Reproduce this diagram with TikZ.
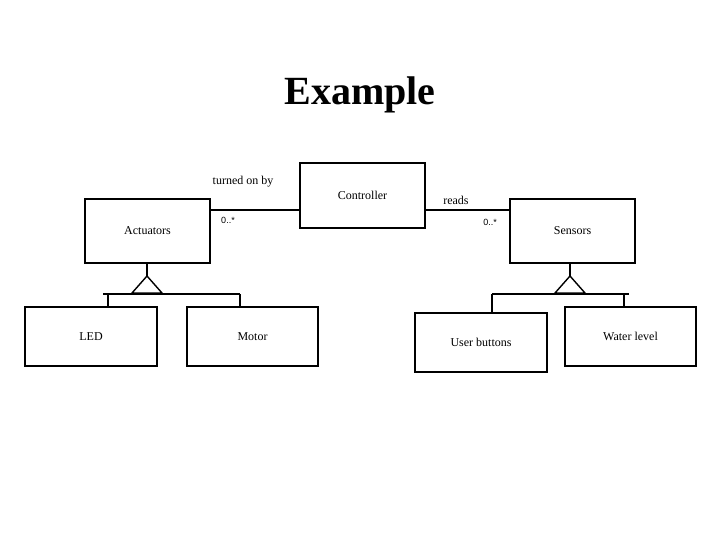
\documentclass[tikz,border=0pt]{standalone}
\usepackage{fontspec}
\setmainfont{Liberation Serif}
\newfontfamily\smallsans{Liberation Sans}
\begin{document}
\begin{tikzpicture}[x=1pt,y=-1pt,line width=1.4pt,
  box/.style={draw,minimum width=#1,inner sep=0pt,font=\fontsize{12}{14}\selectfont},
  lbl/.style={font=\fontsize{12}{14}\selectfont,inner sep=0pt},
  mult/.style={font=\smallsans\fontsize{9}{10}\selectfont,inner sep=0pt}]
\useasboundingbox (0,0) rectangle (720,540);
\node[font=\bfseries\fontsize{40}{44}\selectfont] (title) at (360,95) {Example};
\node[box=125pt,minimum height=64pt] (act) at (147.5,231) {Actuators};
\node[box=125pt,minimum height=65pt] (ctl) at (362.5,195.5) {Controller};
\node[box=125pt,minimum height=64pt] (sen) at (572.5,231) {Sensors};
\node[box=132pt,minimum height=59pt] (led) at (91,336.5) {LED};
\node[box=131pt,minimum height=59pt] (mot) at (252.5,336.5) {Motor};
\node[box=132pt,minimum height=59pt] (usr) at (481,342.5) {User buttons};
\node[box=131pt,minimum height=59pt] (wat) at (630.5,336.5) {Water level};
\coordinate (c1) at (300,210); \coordinate (a1) at (210,210);
\coordinate (c2) at (425,210); \coordinate (s1) at (510,210);
\draw (a1) -- (c1);
\draw (c2) -- (s1);
\node[lbl] (t1) at (243,182) {turned on by};
\node[mult] (m1) at (228,220) {0..*};
\node[lbl] (t2) at (456,200) {reads};
\node[mult] (m2) at (490,222) {0..*};
% generalization actuators
\coordinate (ga) at (147,276);
\draw (act.south -| ga) -- (ga);
\draw (ga) -- (132,293) -- (162,293) -- cycle;
\draw (103,294) -- (240,294);
\draw (108,294) -- (led.north -| 108,0);
\draw (240,294) -- (mot.north -| 240,0);
% generalization sensors
\coordinate (gs) at (570,276);
\draw (sen.south -| gs) -- (gs);
\draw (gs) -- (555,293) -- (585,293) -- cycle;
\draw (492,294) -- (629,294);
\draw (492,294) -- (usr.north -| 492,0);
\draw (624,294) -- (wat.north -| 624,0);
\end{tikzpicture}
\end{document}
